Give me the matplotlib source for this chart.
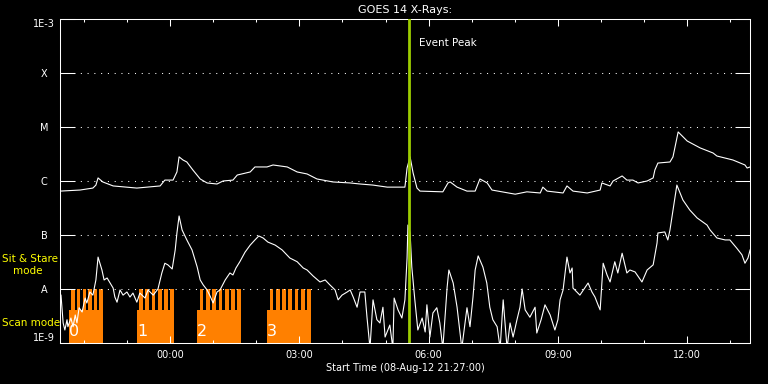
import numpy as np
import matplotlib.pyplot as plt
from matplotlib.ticker import MultipleLocator, NullLocator

# GOES 14 X-ray flux, time in hours relative to 09-Aug-12 00:00 UT
long_t = [-2.55, -2.09, -1.79, -1.72, -1.67, -1.56, -1.32, -0.77, -0.23, -0.12,
          0.07, 0.16, 0.21, 0.30, 0.39, 0.53, 0.70, 0.86, 1.09, 1.23,
          1.46, 1.56, 1.86, 1.97, 2.25, 2.39, 2.72, 2.95, 3.18, 3.41,
          3.78, 4.18, 4.41, 4.71, 5.04, 5.45, 5.50, 5.57, 5.64, 5.73,
          5.80, 6.33, 6.45, 6.50, 6.66, 6.89, 7.08, 7.19, 7.36, 7.47,
          8.01, 8.28, 8.59, 8.65, 8.75, 9.12, 9.21, 9.35, 9.68, 9.98,
          10.02, 10.21, 10.28, 10.49, 10.60, 10.74, 10.86, 11.07, 11.21, 11.25,
          11.32, 11.60, 11.67, 11.79, 12.00, 12.30, 12.60, 12.69, 13.06, 13.34,
          13.39, 13.46]
long_flux = [6.5e-7, 6.8e-7, 7.4e-7, 8.4e-7, 1.14e-6, 9.6e-7, 8.1e-7, 7.4e-7, 8.1e-7, 1.04e-6,
             1.04e-6, 1.47e-6, 2.8e-6, 2.45e-6, 2.25e-6, 1.6e-6, 1.09e-6, 9.2e-7, 8.8e-7, 1.0e-6,
             1.04e-6, 1.29e-6, 1.47e-6, 1.82e-6, 1.82e-6, 1.98e-6, 1.82e-6, 1.47e-6, 1.35e-6, 1.09e-6,
             9.6e-7, 9.2e-7, 8.8e-7, 8.4e-7, 7.7e-7, 7.7e-7, 1.74e-6, 2.8e-6, 1.41e-6, 7.4e-7,
             6.5e-7, 6.3e-7, 9.2e-7, 9.6e-7, 7.7e-7, 6.5e-7, 6.5e-7, 1.09e-6, 9.2e-7, 6.8e-7,
             5.7e-7, 6.3e-7, 6.0e-7, 7.7e-7, 6.5e-7, 6.0e-7, 8.1e-7, 6.5e-7, 6.0e-7, 6.8e-7,
             9.2e-7, 8.1e-7, 1.0e-6, 1.24e-6, 1.04e-6, 1.04e-6, 9.2e-7, 1.0e-6, 1.14e-6, 1.6e-6,
             2.15e-6, 2.25e-6, 2.8e-6, 8.1e-6, 5.5e-6, 4.1e-6, 3.3e-6, 2.9e-6, 2.45e-6, 1.98e-6,
             1.74e-6, 1.82e-6]

short_t = [-2.53, -2.48, -2.44, -2.39, -2.37, -2.30, -2.25, -2.20, -2.16, -2.11,
           -2.04, -1.97, -1.93, -1.86, -1.79, -1.72, -1.67, -1.58, -1.53, -1.46,
           -1.39, -1.32, -1.28, -1.23, -1.16, -1.09, -1.00, -0.93, -0.86, -0.77,
           -0.70, -0.58, -0.51, -0.39, -0.28, -0.19, -0.12, -0.05, 0.05, 0.12,
           0.16, 0.21, 0.28, 0.39, 0.51, 0.63, 0.70, 0.77, 0.86, 0.93,
           1.00, 1.09, 1.16, 1.28, 1.39, 1.46, 1.53, 1.62, 1.74, 1.86,
           1.97, 2.06, 2.16, 2.27, 2.44, 2.60, 2.78, 2.95, 3.09, 3.18,
           3.32, 3.48, 3.60, 3.71, 3.83, 3.90, 3.99, 4.11, 4.18, 4.25,
           4.34, 4.41, 4.52, 4.57, 4.64, 4.71, 4.80, 4.87, 4.94, 4.99,
           5.10, 5.17, 5.20, 5.29, 5.38, 5.45, 5.50, 5.52, 5.57, 5.61,
           5.68, 5.75, 5.85, 5.92, 5.96, 6.03, 6.10, 6.19, 6.26, 6.33,
           6.43, 6.47, 6.57, 6.66, 6.77, 6.89, 6.96, 7.03, 7.08, 7.15,
           7.26, 7.35, 7.42, 7.49, 7.59, 7.66, 7.73, 7.82, 7.89, 7.96,
           8.05, 8.12, 8.17, 8.24, 8.35, 8.47, 8.51, 8.61, 8.70, 8.82,
           8.93, 9.00, 9.05, 9.12, 9.21, 9.28, 9.33, 9.35, 9.51, 9.70,
           9.79, 9.86, 9.93, 9.98, 10.05, 10.14, 10.21, 10.32, 10.39, 10.49,
           10.60, 10.67, 10.79, 10.95, 11.07, 11.21, 11.30, 11.32, 11.48, 11.55,
           11.60, 11.69, 11.76, 11.90, 12.06, 12.23, 12.46, 12.53, 12.69, 12.88,
           12.99, 13.15, 13.27, 13.34, 13.41, 13.46]
short_flux = [7.7e-9, 2.35e-9, 1.74e-9, 2.7e-9, 2.0e-9, 2.9e-9, 2.0e-9, 3.3e-9, 2.35e-9, 4.5e-9,
              3.75e-9, 6.8e-9, 5.5e-9, 8.8e-9, 7.7e-9, 1.47e-8, 3.9e-8, 2.25e-8, 1.47e-8, 1.6e-8,
              1.29e-8, 1.04e-8, 7.1e-9, 5.7e-9, 9.6e-9, 7.7e-9, 8.8e-9, 7.1e-9, 8.4e-9, 5.7e-9,
              8.4e-9, 6.8e-9, 9.6e-9, 7.7e-9, 1.0e-8, 1.98e-8, 3.0e-8, 2.8e-8, 2.35e-8, 5.3e-8,
              1.09e-7, 2.25e-7, 1.24e-7, 8.1e-8, 5.3e-8, 2.55e-8, 1.47e-8, 1.19e-8, 9.6e-9, 7.4e-9,
              5.5e-9, 8.8e-9, 9.6e-9, 1.47e-8, 1.98e-8, 1.82e-8, 2.45e-8, 3.2e-8, 4.8e-8, 6.5e-8,
              8.1e-8, 9.6e-8, 8.8e-8, 7.4e-8, 6.5e-8, 5.3e-8, 3.75e-8, 3.2e-8, 2.45e-8, 2.25e-8,
              1.74e-8, 1.35e-8, 1.47e-8, 1.19e-8, 9.6e-9, 6.3e-9, 7.7e-9, 8.8e-9, 9.6e-9, 7.1e-9,
              4.6e-9, 8.8e-9, 8.8e-9, 3.0e-9, 8e-10, 6.3e-9, 2.7e-9, 2.35e-9, 4.6e-9, 1.29e-9,
              2.15e-9, 8e-10, 6.8e-9, 4.1e-9, 2.9e-9, 6.3e-9, 3.75e-8, 1.53e-7, 1.09e-7, 2.55e-8,
              6.3e-9, 1.74e-9, 2.9e-9, 1.6e-9, 5.1e-9, 1.29e-9, 3.6e-9, 4.5e-9, 2.35e-9, 8e-10,
              1.09e-8, 2.25e-8, 1.29e-8, 4.6e-9, 8e-10, 4.5e-9, 2.0e-9, 7.1e-9, 2.25e-8, 4.1e-8,
              2.55e-8, 1.29e-8, 4.6e-9, 2.7e-9, 2.0e-9, 8e-10, 6.3e-9, 8e-10, 2.35e-9, 1.29e-9,
              2.7e-9, 4.6e-9, 1.0e-8, 4.1e-9, 3.0e-9, 4.6e-9, 1.53e-9, 2.7e-9, 5.1e-9, 3.3e-9,
              1.74e-9, 2.7e-9, 6.3e-9, 9.6e-9, 3.9e-8, 1.98e-8, 2.45e-8, 1.04e-8, 7.7e-9, 1.29e-8,
              8.8e-9, 7.1e-9, 5.1e-9, 4.1e-9, 3.0e-8, 1.82e-8, 1.35e-8, 3.2e-8, 1.98e-8, 4.6e-8,
              1.98e-8, 2.25e-8, 2.07e-8, 1.35e-8, 2.25e-8, 2.8e-8, 7.1e-8, 1.09e-7, 1.14e-7, 8.1e-8,
              1.24e-7, 3.6e-7, 8.4e-7, 4.45e-7, 2.9e-7, 2.07e-7, 1.53e-7, 1.24e-7, 8.8e-8, 8.1e-8,
              8.1e-8, 5.7e-8, 4.3e-8, 3.0e-8, 3.75e-8, 5.3e-8]

# scan-mode rasters (start, end in hours, number of raster steps)
scan_start = [-2.34, -0.77, 0.63, 2.25]
scan_end = [-1.56, 0.09, 1.65, 3.27]
scan_steps = [6, 6, 7, 7]
scan_labels = ['0', '1', '2', '3']

event_time = 5.545
ylevels = [1e-3, 1e-4, 1e-5, 1e-6, 1e-7, 1e-8, 1e-9]
ylabels = ['1E-3', 'X', 'M', 'C', 'B', 'A', '1E-9']
xticks = [0, 3, 6, 9, 12]
xticklabels = ['00:00', '03:00', '06:00', '09:00', '12:00']

orange = '#ff8000'
plt.rcParams['font.family'] = 'DejaVu Sans'

fig = plt.figure(figsize=(7.68, 3.84), dpi=100, facecolor='black')
ax = fig.add_axes([60/768, 41/384, 690/768, 324/384])
ax.set_facecolor('black')
ax.set_yscale('log')
ax.set_xlim(-2.553, 13.457)
ax.set_ylim(1e-9, 1e-3)

# scan-mode bars: low block plus a comb of raster steps up to the A level
floor = 1e-10
for s, e, n, lab in zip(scan_start, scan_end, scan_steps, scan_labels):
    ax.bar(s, 4.1e-9 - floor, width=e - s, bottom=floor, align='edge', color=orange, lw=0)
    step = (e - s) / n
    starts = s + step * np.arange(n) + step * 0.4
    ax.bar(starts, 1e-8 - floor, width=step * 0.6, bottom=floor, align='edge', color=orange, lw=0)
    ax.annotate(lab, xy=(s, 1e-9), xytext=(0, 3), textcoords='offset points',
                color='white', fontsize=11.5, va='bottom', ha='left')

# dotted class levels
for lv in ylevels[1:-1]:
    ax.axhline(lv, color='white', lw=0.75, ls=(0, (1, 5.5)), zorder=1)

ax.plot(long_t, long_flux, color='white', lw=0.8, zorder=3)
ax.plot(short_t, short_flux, color='white', lw=0.8, zorder=3)

ax.axvline(event_time, color='#9ccc00', lw=2, zorder=4)
ax.annotate('Event Peak', xy=(event_time, 0.926), xycoords=('data', 'axes fraction'),
            xytext=(7, 0), textcoords='offset points', color='white', fontsize=7.5, va='center')

# axes styling
for sp in ax.spines.values():
    sp.set_color('white')
    sp.set_linewidth(0.75)
ax.set_yticks(ylevels)
ax.set_yticklabels(ylabels)
ax.yaxis.set_minor_locator(NullLocator())
ax.tick_params(axis='y', which='major', direction='in', length=10.8, width=0.75,
               colors='white', left=True, right=True, pad=11.5, labelsize=7)
for lbl in ax.get_yticklabels():
    lbl.set_ha('center')
ylbls = ax.get_yticklabels()
ylbls[0].set_va('top')
ylbls[-1].set_va('bottom')

ax.set_xticks(xticks)
ax.set_xticklabels(xticklabels)
ax.xaxis.set_minor_locator(MultipleLocator(1))
ax.tick_params(axis='x', which='major', direction='in', length=4.7, width=0.75,
               colors='white', top=True, bottom=True, pad=5, labelsize=7)
ax.tick_params(axis='x', which='minor', direction='in', length=2.4, width=0.75,
               colors='white', top=True, bottom=True)

ax.set_title('GOES 14 X-Rays:', color='white', fontsize=8, pad=4.3)
fig.text(405/768, 1 - 368/384, 'Start Time (08-Aug-12 21:27:00)', color='white',
         fontsize=7, ha='center', va='center')

fig.text(2/768, 1 - 259/384, 'Sit & Stare', color='#ffff00', fontsize=7.5, va='center')
fig.text(13/768, 1 - 271/384, 'mode', color='#ffff00', fontsize=7.5, va='center')
fig.text(2/768, 1 - 323/384, 'Scan mode', color='#ffff00', fontsize=7.5, va='center')

fig.savefig('out.png', dpi=100, facecolor='black')
